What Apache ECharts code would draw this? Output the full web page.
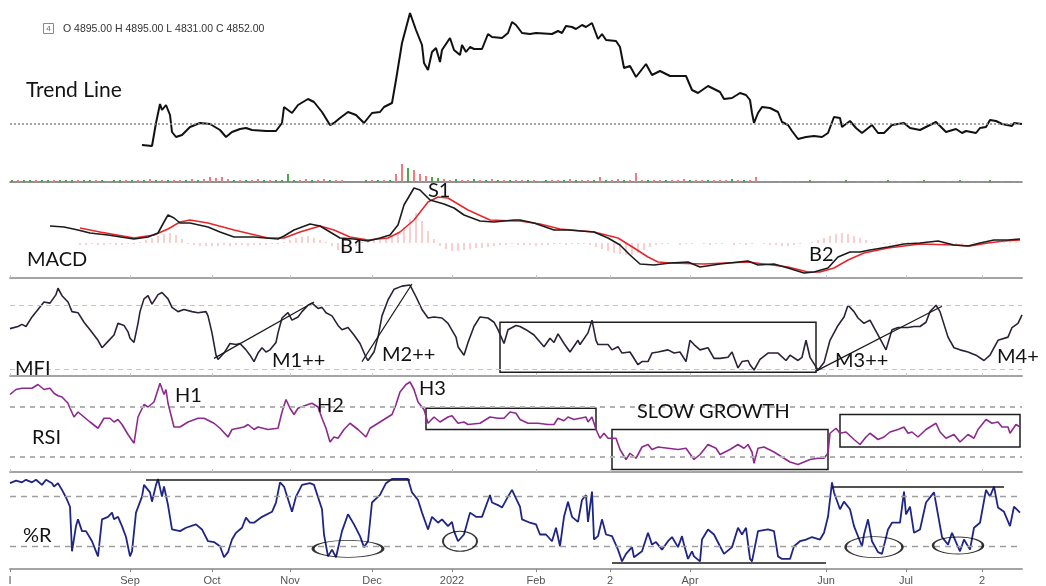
<!DOCTYPE html>
<html>
<head>
<meta charset="utf-8">
<script src="https://cdn.jsdelivr.net/npm/echarts/dist/echarts.min.js"></script>
<style>
html, body { margin: 0; padding: 0; background: #fff; }
#chart { width: 1046px; height: 586px; }
</style>
</head>
<body>
<div id="chart"></div>
<script>
// x axis = trading day index (0..506), month ticks
const N = 507;
const tickIdx  = [0, 60, 101, 140, 181, 221, 263, 300, 340, 408, 448, 486];
const tickText = ['I', 'Sep', 'Oct', 'Nov', 'Dec', '2022', 'Feb', '2', 'Apr', 'Jun', 'Jul', '2'];

// price (close), [day, value]
const price = [[66,4650],[71,4640],[73,4870],[75,5060],[76,5000],[78,5050],[80,4950],[81,4780],[83,4730],[86,4750],[90,4830],[95,4870],[100,4860],[105,4800],[108,4730],[111,4780],[115,4810],[118,4820],[121,4800],[128,4790],[133,4790],[136,4870],[137,5030],[141,4970],[144,5050],[149,5110],[152,5080],[156,4980],[160,4850],[162,4870],[165,4920],[169,4980],[173,4950],[177,4870],[181,4970],[185,4980],[187,5030],[191,5070],[193,5300],[196,5670],[200,5970],[203,5800],[206,5650],[207,5470],[209,5400],[211,5580],[213,5620],[215,5480],[216,5600],[220,5720],[222,5600],[225,5550],[226,5650],[228,5580],[230,5630],[232,5610],[236,5610],[239,5760],[241,5730],[246,5720],[249,5770],[251,5880],[253,5850],[256,5770],[260,5760],[263,5770],[271,5760],[274,5790],[276,5770],[278,5840],[281,5830],[283,5810],[286,5850],[288,5830],[291,5870],[294,5710],[296,5760],[298,5700],[303,5690],[305,5630],[307,5420],[310,5440],[313,5330],[318,5460],[321,5350],[325,5390],[330,5340],[334,5340],[338,5340],[341,5200],[344,5170],[345,5150],[349,5240],[355,5180],[357,5110],[361,5120],[365,5170],[368,5150],[370,5100],[371,4970],[372,4870],[374,4970],[376,5030],[380,5020],[384,4980],[386,4880],[389,4850],[391,4790],[394,4710],[398,4730],[402,4740],[406,4730],[409,4770],[412,4930],[415,4920],[416,4830],[420,4890],[423,4820],[426,4770],[431,4850],[434,4770],[437,4770],[441,4850],[447,4870],[450,4820],[455,4800],[463,4880],[468,4780],[473,4810],[476,4770],[478,4790],[483,4770],[485,4820],[488,4830],[490,4900],[493,4890],[496,4860],[501,4840],[502,4870],[506,4860]];
const lastClose = 4860;

// volume, every 3rd day from day 1; sign = up (+) / down (-)
const volStart = 1, volStep = 3;
const volume = [2,-2,2,2,-2,2,2,-2,2,2,2,-2,2,2,-2,
  2,-1,2,2,-2,
  2,-2,2,-3,2,-2,2,-2,-2,2,-3,2,
  -3,-5,-4,-5,-3,
  2,-2,2,-2,-3,2,-2,2,2,
  8,
  2,-2,-3,2,-2,-3,2,
  -2,-2,
  0,0,0,
  2,-2,2,-2,2,
  -8,-18,14,-12,-8,-6,5,4,
  -3,-2,3,-2,-2,3,-2,2,-3,2,-2,2,-2,
  -2,2,-2,-1,2,-2,-2,2,-3,2,-2,-2,2,
  -5,
  2,-2,-3,2,-2,-9,
  -2,2,-2,-2,2,-2,-2,
  -3,2,-2,-2,2,-2,-2,-2,
  3,-2,2,
  -2,-5,
  -1,-1,0,-1,0,-1,-1,0,2,-1,0,-1,-1,0,2,0,-1,0,0,-1,0,2,0,-1,0,-1,0,2,0,-1,0,-1,0,2,0,-1,-1,0,2,0,-1,0,-1,-1];

// MACD line, signal line, histogram (every 3rd day from day 35)
const macd = [[20,17],[27,16],[34,13],[40,10],[49,8],[62,4],[69,6],[74,10],[77,21],[79,28],[82,25],[85,20],[90,20],[99,16],[105,11],[112,6],[122,6],[134,4],[137,7],[142,13],[150,19],[155,17],[160,11],[165,5],[172,4],[179,2],[185,5],[190,8],[194,18],[197,38],[202,55],[205,53],[210,43],[217,39],[222,35],[227,28],[235,22],[242,21],[252,23],[255,23],[262,20],[272,13],[279,13],[292,11],[299,5],[305,-2],[310,-12],[315,-21],[322,-22],[330,-20],[339,-19],[345,-24],[355,-21],[369,-18],[374,-22],[382,-21],[389,-25],[397,-30],[402,-29],[409,-25],[414,-14],[420,-9],[425,-9],[430,-7],[439,-4],[447,-1],[455,0],[464,2],[472,-2],[479,-3],[485,0],[492,3],[499,3],[505,4]];
const signal = [[35,15],[45,11],[62,5],[72,8],[79,14],[85,21],[90,23],[99,20],[112,13],[129,5],[137,5],[145,11],[155,17],[162,13],[170,6],[179,3],[189,5],[195,11],[202,23],[209,41],[214,46],[219,45],[229,33],[240,23],[252,22],[255,22],[265,19],[275,14],[292,11],[304,5],[312,-5],[319,-14],[324,-19],[330,-20],[347,-21],[369,-19],[389,-24],[399,-29],[405,-29],[412,-25],[419,-17],[427,-10],[439,-5],[455,-1],[472,-2],[480,-3],[489,0],[497,2],[505,3]];
const histStart = 35, histStep = 3;
const hist = [-2,-2,-1,-2,-2,-1,-2,-2,-1,-1,
  1,3,5,7,9,10,8,4,-1,
  -2,-3,-3,-3,-3,-2,-3,-2,-2,-3,-2,-2,-2,-1,-1,1,
  3,5,6,7,5,3,1,
  -3,-7,-9,-7,-3,
  1,2,3,4,5,7,
  10,16,24,30,22,12,4,
  -3,-6,-8,-8,-7,-6,-5,-5,-4,-3,-2,
  -2,-1,-2,-2,-2,-3,-2,-2,-1,-1,-2,-1,-1,-1,-2,
  -4,-6,-8,-10,-11,-12,-12,-10,-7,-4,-2,
  -1,-1,0,-2,-1,-1,0,-1,-2,-1,-1,0,-2,-1,-2,-1,0,-1,-2,-2,-3,-3,-2,-1,
  0,1,3,5,7,9,10,9,7,5,3,1,
  0,-1,-1,1,1,1,0,1,1,1,0,-1,-1,-1,-1,0,1,1,1,1,1,1,1,1];

// MFI
const mfi = [[0,58],[4,60],[6,62],[8,60],[11,69],[14,76],[17,83],[20,82],[23,90],[24,96],[26,89],[29,83],[31,74],[34,73],[37,64],[40,57],[44,47],[46,40],[49,46],[52,52],[54,63],[57,61],[59,55],[60,49],[62,45],[64,63],[65,74],[67,86],[69,89],[71,81],[73,87],[74,90],[76,92],[79,86],[81,78],[84,74],[87,76],[91,74],[94,73],[98,74],[99,70],[101,54],[103,33],[104,29],[107,35],[110,44],[113,43],[115,44],[118,38],[120,33],[122,27],[124,35],[126,40],[128,36],[130,38],[133,45],[134,54],[136,68],[139,73],[141,66],[144,69],[146,74],[149,80],[151,82],[154,77],[156,78],[158,73],[161,70],[164,61],[166,57],[169,59],[172,52],[175,44],[178,31],[179,28],[182,36],[184,50],[186,70],[189,85],[192,95],[196,98],[200,99],[203,88],[206,76],[209,68],[212,69],[216,68],[219,63],[223,50],[224,41],[227,33],[229,45],[232,60],[235,69],[239,68],[242,64],[244,57],[247,44],[249,57],[253,61],[255,60],[258,57],[262,52],[267,41],[270,49],[272,45],[274,53],[277,44],[280,36],[284,47],[285,43],[289,54],[291,66],[293,47],[294,43],[299,43],[301,38],[304,41],[306,35],[310,36],[314,24],[316,27],[319,27],[321,35],[324,36],[329,38],[332,35],[335,36],[338,27],[340,47],[342,43],[345,38],[349,40],[352,30],[355,30],[359,31],[361,36],[364,21],[366,27],[369,28],[370,24],[372,19],[375,29],[379,35],[384,35],[388,28],[390,33],[394,28],[396,31],[398,47],[400,31],[404,19],[407,26],[410,47],[414,61],[417,69],[419,80],[422,74],[424,68],[427,63],[430,66],[432,59],[434,52],[438,38],[441,57],[444,59],[449,59],[452,60],[455,60],[458,64],[460,74],[463,80],[465,74],[469,50],[472,40],[475,38],[479,36],[483,33],[487,28],[490,33],[494,47],[499,50],[501,59],[504,63],[506,71]];

// RSI
const rsi = [[0,80],[3,84],[6,85],[11,85],[14,88],[17,84],[20,85],[22,81],[24,79],[26,78],[29,73],[30,69],[32,62],[34,66],[37,62],[40,58],[44,53],[47,61],[50,61],[52,58],[54,60],[56,56],[59,48],[62,41],[64,62],[67,72],[69,70],[72,74],[74,84],[75,89],[77,80],[78,84],[79,73],[82,54],[85,54],[89,58],[94,61],[97,61],[102,57],[105,53],[109,46],[111,52],[114,53],[117,54],[119,56],[122,52],[124,54],[129,52],[134,53],[136,66],[138,76],[140,69],[142,64],[144,69],[149,72],[151,73],[154,70],[156,61],[158,53],[160,42],[162,46],[164,45],[167,52],[170,57],[174,52],[178,46],[180,53],[185,58],[189,62],[191,64],[193,72],[195,82],[198,88],[200,90],[202,84],[204,74],[207,68],[209,57],[212,62],[215,58],[219,62],[221,63],[224,57],[227,58],[229,56],[235,57],[240,62],[244,61],[247,61],[250,66],[253,65],[255,60],[259,57],[264,57],[269,56],[272,56],[274,61],[277,59],[279,62],[282,60],[285,61],[288,62],[289,58],[291,62],[293,52],[295,45],[297,49],[299,45],[303,45],[305,36],[308,28],[310,33],[313,29],[316,38],[319,40],[321,36],[324,38],[329,37],[334,36],[338,37],[342,28],[345,32],[349,40],[353,37],[355,32],[360,36],[364,40],[367,37],[369,40],[371,34],[372,25],[374,37],[377,38],[382,34],[387,29],[390,26],[394,24],[397,26],[400,28],[404,29],[407,29],[409,33],[410,49],[413,53],[415,49],[418,50],[422,44],[425,40],[428,46],[430,49],[434,44],[437,46],[440,50],[444,52],[447,54],[449,49],[451,50],[454,46],[458,52],[463,57],[465,50],[468,45],[472,48],[475,42],[479,48],[482,45],[484,52],[488,60],[491,57],[494,58],[496,54],[499,54],[500,49],[503,56],[505,54]];

// Williams %R
const willR = [[0,-5],[3,-2],[6,-4],[8,-1],[11,-4],[13,-1],[16,-7],[18,-1],[21,-5],[22,-9],[24,-5],[26,-13],[28,-22],[30,-33],[31,-86],[33,-56],[34,-48],[36,-62],[38,-62],[41,-74],[43,-86],[44,-92],[46,-48],[49,-45],[51,-40],[52,-48],[54,-45],[56,-56],[58,-69],[60,-92],[61,-86],[63,-40],[66,-21],[67,-7],[70,-16],[71,-27],[73,-7],[74,0],[76,-21],[77,-9],[79,-31],[81,-60],[85,-62],[88,-58],[93,-54],[96,-60],[99,-74],[102,-75],[105,-80],[107,-93],[109,-87],[111,-72],[113,-64],[116,-58],[118,-46],[120,-52],[122,-52],[126,-45],[131,-39],[133,-28],[135,-4],[137,-9],[141,-39],[143,-21],[146,-7],[150,-5],[152,-7],[156,-36],[157,-66],[159,-92],[161,-84],[163,-93],[166,-62],[169,-42],[172,-54],[175,-68],[177,-81],[179,-74],[181,-28],[185,-19],[188,-5],[191,0],[199,0],[201,-16],[204,-25],[206,-40],[209,-60],[211,-45],[214,-52],[216,-48],[219,-56],[221,-51],[222,-62],[224,-74],[227,-66],[230,-40],[233,-45],[236,-45],[240,-19],[241,-28],[244,-31],[246,-34],[249,-21],[251,-13],[254,-28],[255,-33],[256,-48],[260,-52],[263,-54],[265,-66],[268,-66],[271,-74],[273,-58],[275,-80],[277,-45],[279,-27],[281,-45],[284,-51],[286,-25],[288,-19],[289,-51],[291,-15],[292,-72],[294,-68],[296,-48],[298,-66],[301,-68],[304,-84],[306,-98],[308,-89],[311,-81],[312,-93],[316,-86],[319,-64],[321,-78],[323,-75],[326,-84],[329,-74],[331,-69],[334,-81],[336,-68],[337,-78],[339,-95],[341,-86],[342,-92],[345,-98],[346,-72],[349,-60],[352,-66],[355,-80],[357,-89],[361,-81],[364,-58],[366,-66],[368,-58],[370,-95],[371,-98],[374,-62],[379,-60],[382,-62],[384,-92],[386,-95],[390,-95],[392,-80],[395,-74],[398,-72],[401,-69],[405,-72],[407,-64],[409,-45],[411,-4],[412,-16],[415,-36],[417,-27],[420,-36],[422,-56],[426,-80],[427,-66],[429,-48],[431,-74],[434,-87],[436,-89],[439,-60],[441,-52],[445,-52],[447,-15],[448,-42],[450,-33],[452,-64],[455,-60],[458,-28],[462,-16],[466,-69],[469,-78],[471,-64],[475,-86],[477,-72],[480,-84],[482,-58],[485,-52],[488,-13],[490,-21],[492,-9],[494,-34],[497,-39],[500,-56],[502,-33],[505,-40]];

// annotations (in data units)
const mfiLevels = [80, 20];
const mfiTrend = [[[102,30],[152,83]], [[176,27],[201,100]], [[403,18],[466,79]]];
const mfiBox = [[[245,64],[403,17]]];
const rsiLevels = [70, 30];
const rsiBoxes = [[[208,69],[293,52]], [[301,52],[409,20]], [[415,64],[505,38]]];
const wrLevels = [-20, -80];
const wrLines = [[[68,-0.5],[200,-0.5]], [[301,-99],[408,-99]], [[411,-9],[497,-9]]];
const wrOvals = [[169,-83], [225,-74], [432,-81], [474,-79]];
const ovalSize = [[70,17], [34,20], [57,21], [50,17]];

const chart = echarts.init(document.getElementById('chart'));

const cats = Array.from({ length: N }, (_, i) => String(i));
const isTick = (idx) => tickIdx.indexOf(idx) >= 0;

const grids = [
    { left: 10, width: 1012, top: 5, height: 150 },   // price
    { left: 10, width: 1012, top: 158, height: 24 },  // volume
    { left: 10, width: 1012, top: 185, height: 93 },  // macd
    { left: 10, width: 1012, top: 284, height: 92 },  // mfi
    { left: 10, width: 1012, top: 378, height: 94 },  // rsi
    { left: 10, width: 1012, top: 474, height: 96 }   // %R
];
const yRange = [[4550, 6050], [0, 24], [-35, 58], [13.4, 100], [18, 93.2], [-107, 5.9]];

const xAxes = grids.map((g, k) => ({
    type: 'category',
    gridIndex: k,
    data: cats,
    boundaryGap: false,
    axisLine: {
        show: k > 0,
        onZero: false,
        lineStyle: { color: k === 1 ? '#6d6d6d' : '#a4a4a4', width: k === 1 ? 1.5 : 2 }
    },
    axisTick: {
        show: k > 1,
        interval: (idx) => isTick(idx),
        inside: k < 5,
        length: 3,
        lineStyle: { color: k < 5 ? '#c4c4c4' : '#888' }
    },
    axisLabel: k === 5 ? {
        show: true,
        interval: (idx) => isTick(idx),
        formatter: (v, idx) => tickText[tickIdx.indexOf(Number(v))] || '',
        fontFamily: 'Liberation Sans',
        fontSize: 11,
        color: '#555',
        margin: 6
    } : { show: false },
    splitLine: { show: false }
}));

const yAxes = yRange.map((r, k) => ({
    type: 'value', gridIndex: k, min: r[0], max: r[1], show: false, splitLine: { show: false }
}));

const noMark = { symbol: ['none', 'none'], silent: true, label: { show: false } };
const segLines = (list, style) => list.map(s => [
    { coord: s[0], lineStyle: style }, { coord: s[1] }
]);
const boxes = (list) => list.map(b => [{ coord: b[0] }, { coord: b[1] }]);
const boxStyle = { color: 'rgba(0,0,0,0)', borderColor: '#1e1e1e', borderWidth: 1.5 };

const series = [
    {
        type: 'line', xAxisIndex: 0, yAxisIndex: 0, data: price, showSymbol: false,
        lineStyle: { color: '#111', width: 2 },
        markLine: Object.assign({}, noMark, {
            data: [{ yAxis: lastClose }],
            lineStyle: { color: '#8a8a8a', type: [2, 2], width: 1.5 }
        })
    },
    {
        type: 'bar', xAxisIndex: 1, yAxisIndex: 1, barWidth: 2,
        data: volume.map((v, k) => ({
            value: [volStart + k * volStep, Math.abs(v)],
            itemStyle: { color: v >= 0 ? '#4aa84a' : '#ef7c7c' }
        }))
    },
    {
        type: 'bar', xAxisIndex: 2, yAxisIndex: 2, barWidth: 1,
        itemStyle: { color: '#f3a2a2' },
        data: hist.map((v, k) => [histStart + k * histStep, v])
    },
    {
        type: 'line', xAxisIndex: 2, yAxisIndex: 2, data: signal, showSymbol: false,
        lineStyle: { color: '#e8262a', width: 1.5 }
    },
    {
        type: 'line', xAxisIndex: 2, yAxisIndex: 2, data: macd, showSymbol: false,
        lineStyle: { color: '#1b1b1b', width: 1.6 }
    },
    {
        type: 'line', xAxisIndex: 3, yAxisIndex: 3, data: mfi, showSymbol: false,
        lineStyle: { color: '#2b2138', width: 1.6 },
        markLine: Object.assign({}, noMark, {
            data: mfiLevels.map(v => ({ yAxis: v, lineStyle: { color: '#d6b5e4', type: [5, 4], width: 1 } }))
                .concat(segLines(mfiTrend, { color: '#1a1a1a', type: 'solid', width: 1.2 }))
        }),
        markArea: { silent: true, itemStyle: boxStyle, data: boxes(mfiBox) }
    },
    {
        type: 'line', xAxisIndex: 4, yAxisIndex: 4, data: rsi, showSymbol: false,
        lineStyle: { color: '#8d2a8f', width: 1.6 },
        markLine: Object.assign({}, noMark, {
            data: rsiLevels.map(v => ({ yAxis: v })),
            lineStyle: { color: '#b2b2b2', type: [5, 5], width: 2 }
        }),
        markArea: { silent: true, itemStyle: boxStyle, data: boxes(rsiBoxes) }
    },
    {
        type: 'line', xAxisIndex: 5, yAxisIndex: 5, data: willR, showSymbol: false,
        lineStyle: { color: '#1f2585', width: 1.8 },
        markLine: Object.assign({}, noMark, {
            data: wrLevels.map(v => ({ yAxis: v, lineStyle: { color: '#9e9e9e', type: [6, 5], width: 1.3 } }))
                .concat(segLines(wrLines, { color: '#1a1a1a', type: 'solid', width: 1.6 }))
        })
    },
    {
        type: 'scatter', xAxisIndex: 5, yAxisIndex: 5, silent: true, z: 5,
        itemStyle: { color: 'rgba(0,0,0,0)', borderColor: '#000', borderWidth: 1.5 },
        data: wrOvals.map((c, k) => ({ value: c, symbolSize: ovalSize[k] }))
    }
];

// panel captions and annotation letters
const labelFont = '20px Lato';
const captions = [
    ['Trend Line', 26, 90, '21px Lato'],
    ['MACD', 27, 260, labelFont], ['S1', 428, 191, labelFont], ['B1', 340, 247, labelFont], ['B2', 809, 255, labelFont],
    ['MFI', 15, 369, labelFont], ['M1++', 272, 361, labelFont], ['M2++', 382, 355, labelFont],
    ['M3++', 835, 361, labelFont], ['M4+', 997, 357, labelFont],
    ['H1', 175, 396, labelFont], ['H2', 317, 406, labelFont], ['H3', 419, 389, labelFont],
    ['RSI', 32, 438, labelFont], ['SLOW GROWTH', 637, 412, labelFont],
    ['%R', 23, 536, labelFont]
];
const graphic = captions.map(c => ({
    type: 'text', x: c[1], y: c[2], z: 100,
    style: { text: c[0], font: c[3], fill: '#131313', verticalAlign: 'middle' }
}));
graphic.push(
    { type: 'rect', shape: { x: 43.5, y: 23.5, width: 10, height: 10 }, style: { fill: '#fff', stroke: '#8a8a8a', lineWidth: 1 } },
    { type: 'text', x: 48.5, y: 29, style: { text: '4', font: '8px Liberation Sans', fill: '#666', align: 'center', verticalAlign: 'middle' } },
    { type: 'text', x: 63, y: 29, style: { text: 'O 4895.00 H 4895.00 L 4831.00 C 4852.00', font: '10.5px Liberation Sans', fill: '#333', verticalAlign: 'middle' } }
);

chart.setOption({
    animation: false,
    backgroundColor: '#fff',
    grid: grids,
    xAxis: xAxes,
    yAxis: yAxes,
    series: series,
    graphic: graphic
});
</script>
</body>
</html>
